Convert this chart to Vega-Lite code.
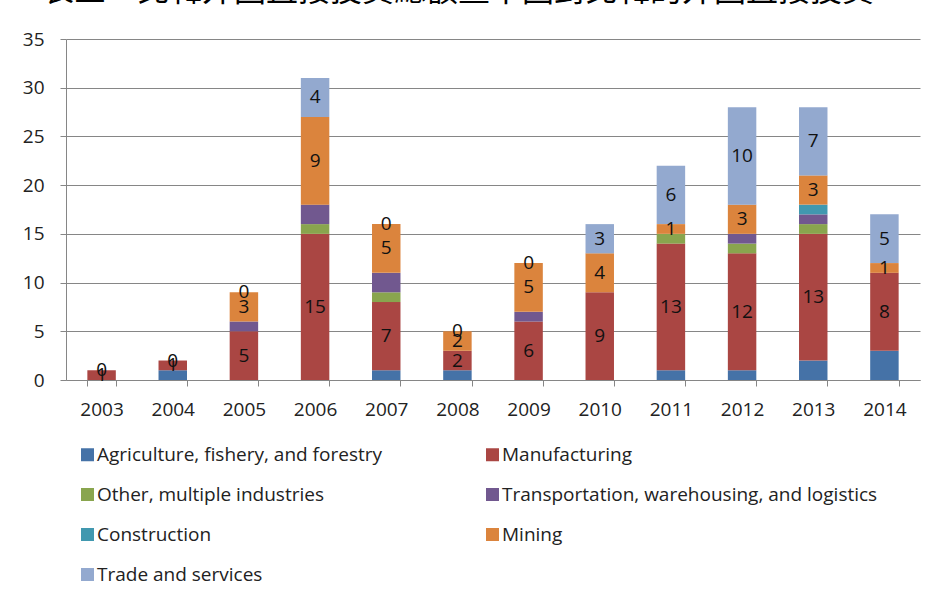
{
  "$schema": "https://vega.github.io/schema/vega-lite/v6.json",
  "width": 854,
  "height": 341,
  "autosize": {"type": "none"},
  "padding": {"left": 66, "top": 39, "right": 13, "bottom": 217},
  "background": "white",
  "title": {
    "text": "表三、北韓外國直接投資總額暨中國對北韓的外國直接投資",
    "font": "Noto Sans CJK TC",
    "fontSize": 32,
    "fontWeight": "normal",
    "color": "#000000",
    "anchor": "middle",
    "dx": -35,
    "offset": -3,
    "baseline": "alphabetic"
  },
  "config": {
    "view": {"stroke": null},
    "font": "Open Sans"
  },
  "data": {
    "values": [
      {"year": "2003", "industry": "Manufacturing", "value": 1, "idx": 2},
      {"year": "2003", "industry": "Trade and services", "value": 0, "idx": 7},
      {"year": "2004", "industry": "Agriculture, fishery, and forestry", "value": 1, "idx": 1},
      {"year": "2004", "industry": "Manufacturing", "value": 1, "idx": 2},
      {"year": "2004", "industry": "Trade and services", "value": 0, "idx": 7},
      {"year": "2005", "industry": "Manufacturing", "value": 5, "idx": 2},
      {"year": "2005", "industry": "Transportation, warehousing, and logistics", "value": 1, "idx": 4},
      {"year": "2005", "industry": "Mining", "value": 3, "idx": 6},
      {"year": "2005", "industry": "Trade and services", "value": 0, "idx": 7},
      {"year": "2006", "industry": "Manufacturing", "value": 15, "idx": 2},
      {"year": "2006", "industry": "Other, multiple industries", "value": 1, "idx": 3},
      {"year": "2006", "industry": "Transportation, warehousing, and logistics", "value": 2, "idx": 4},
      {"year": "2006", "industry": "Mining", "value": 9, "idx": 6},
      {"year": "2006", "industry": "Trade and services", "value": 4, "idx": 7},
      {"year": "2007", "industry": "Agriculture, fishery, and forestry", "value": 1, "idx": 1},
      {"year": "2007", "industry": "Manufacturing", "value": 7, "idx": 2},
      {"year": "2007", "industry": "Other, multiple industries", "value": 1, "idx": 3},
      {"year": "2007", "industry": "Transportation, warehousing, and logistics", "value": 2, "idx": 4},
      {"year": "2007", "industry": "Mining", "value": 5, "idx": 6},
      {"year": "2007", "industry": "Trade and services", "value": 0, "idx": 7},
      {"year": "2008", "industry": "Agriculture, fishery, and forestry", "value": 1, "idx": 1},
      {"year": "2008", "industry": "Manufacturing", "value": 2, "idx": 2},
      {"year": "2008", "industry": "Mining", "value": 2, "idx": 6},
      {"year": "2008", "industry": "Trade and services", "value": 0, "idx": 7},
      {"year": "2009", "industry": "Manufacturing", "value": 6, "idx": 2},
      {"year": "2009", "industry": "Transportation, warehousing, and logistics", "value": 1, "idx": 4},
      {"year": "2009", "industry": "Mining", "value": 5, "idx": 6},
      {"year": "2009", "industry": "Trade and services", "value": 0, "idx": 7},
      {"year": "2010", "industry": "Manufacturing", "value": 9, "idx": 2},
      {"year": "2010", "industry": "Mining", "value": 4, "idx": 6},
      {"year": "2010", "industry": "Trade and services", "value": 3, "idx": 7},
      {"year": "2011", "industry": "Agriculture, fishery, and forestry", "value": 1, "idx": 1},
      {"year": "2011", "industry": "Manufacturing", "value": 13, "idx": 2},
      {"year": "2011", "industry": "Other, multiple industries", "value": 1, "idx": 3},
      {"year": "2011", "industry": "Mining", "value": 1, "idx": 6},
      {"year": "2011", "industry": "Trade and services", "value": 6, "idx": 7},
      {"year": "2012", "industry": "Agriculture, fishery, and forestry", "value": 1, "idx": 1},
      {"year": "2012", "industry": "Manufacturing", "value": 12, "idx": 2},
      {"year": "2012", "industry": "Other, multiple industries", "value": 1, "idx": 3},
      {"year": "2012", "industry": "Transportation, warehousing, and logistics", "value": 1, "idx": 4},
      {"year": "2012", "industry": "Mining", "value": 3, "idx": 6},
      {"year": "2012", "industry": "Trade and services", "value": 10, "idx": 7},
      {"year": "2013", "industry": "Agriculture, fishery, and forestry", "value": 2, "idx": 1},
      {"year": "2013", "industry": "Manufacturing", "value": 13, "idx": 2},
      {"year": "2013", "industry": "Other, multiple industries", "value": 1, "idx": 3},
      {"year": "2013", "industry": "Transportation, warehousing, and logistics", "value": 1, "idx": 4},
      {"year": "2013", "industry": "Construction", "value": 1, "idx": 5},
      {"year": "2013", "industry": "Mining", "value": 3, "idx": 6},
      {"year": "2013", "industry": "Trade and services", "value": 7, "idx": 7},
      {"year": "2014", "industry": "Agriculture, fishery, and forestry", "value": 3, "idx": 1},
      {"year": "2014", "industry": "Manufacturing", "value": 8, "idx": 2},
      {"year": "2014", "industry": "Mining", "value": 1, "idx": 6},
      {"year": "2014", "industry": "Trade and services", "value": 5, "idx": 7}
    ]
  },
  "layer": [
    {
      "mark": {"type": "bar"},
      "encoding": {
        "x": {
          "field": "year",
          "type": "ordinal",
          "scale": {"paddingInner": 0.6, "paddingOuter": 0.3},
          "axis": {
            "title": null,
            "labelAngle": 0,
            "labelFontSize": 19,
            "labelColor": "#222222",
            "labelPadding": 14,
            "tickBand": "extent",
            "tickSize": 6,
            "tickColor": "#868686",
            "domainColor": "#868686",
            "grid": false
          }
        },
        "y": {
          "field": "value",
          "type": "quantitative",
          "stack": "zero",
          "scale": {"domain": [0, 35], "nice": false},
          "axis": {
            "title": null,
            "values": [0, 5, 10, 15, 20, 25, 30, 35],
            "labelFontSize": 19,
            "labelColor": "#222222",
            "labelPadding": 16,
            "tickSize": 6,
            "tickColor": "#868686",
            "domainColor": "#868686",
            "gridColor": "#868686",
            "grid": true
          }
        },
        "order": {"field": "idx", "type": "quantitative", "sort": "ascending"},
        "color": {
          "field": "industry",
          "type": "nominal",
          "scale": {
            "domain": [
              "Agriculture, fishery, and forestry",
              "Manufacturing",
              "Other, multiple industries",
              "Transportation, warehousing, and logistics",
              "Construction",
              "Mining",
              "Trade and services"
            ],
            "range": ["#4572A7", "#AA4643", "#89A54E", "#71588F", "#4198AF", "#DB843D", "#93A9CF"]
          },
          "legend": {
            "title": null,
            "orient": "none",
            "direction": "horizontal",
            "legendX": 12,
            "legendY": 406,
            "columns": 2,
            "columnPadding": 101,
            "rowPadding": 20,
            "padding": 0,
            "symbolType": "square",
            "symbolSize": 169,
            "symbolStrokeWidth": 0,
            "labelFontSize": 19,
            "labelColor": "#222222",
            "labelOffset": 0,
            "labelLimit": 500
          }
        }
      }
    },
    {
      "transform": [
        {"stack": "value", "groupby": ["year"], "sort": [{"field": "idx", "order": "ascending"}], "as": ["y0", "y1"]},
        {"calculate": "(datum.y0 + datum.y1) / 2", "as": "ymid"},
        {"filter": {"field": "industry", "oneOf": ["Manufacturing", "Mining", "Trade and services"]}}
      ],
      "mark": {"type": "text", "fontSize": 19, "color": "#111111", "baseline": "middle"},
      "encoding": {
        "x": {"field": "year", "type": "ordinal"},
        "y": {"field": "ymid", "type": "quantitative", "scale": {"domain": [0, 35], "nice": false}},
        "text": {"field": "value", "type": "quantitative"}
      }
    }
  ]
}
